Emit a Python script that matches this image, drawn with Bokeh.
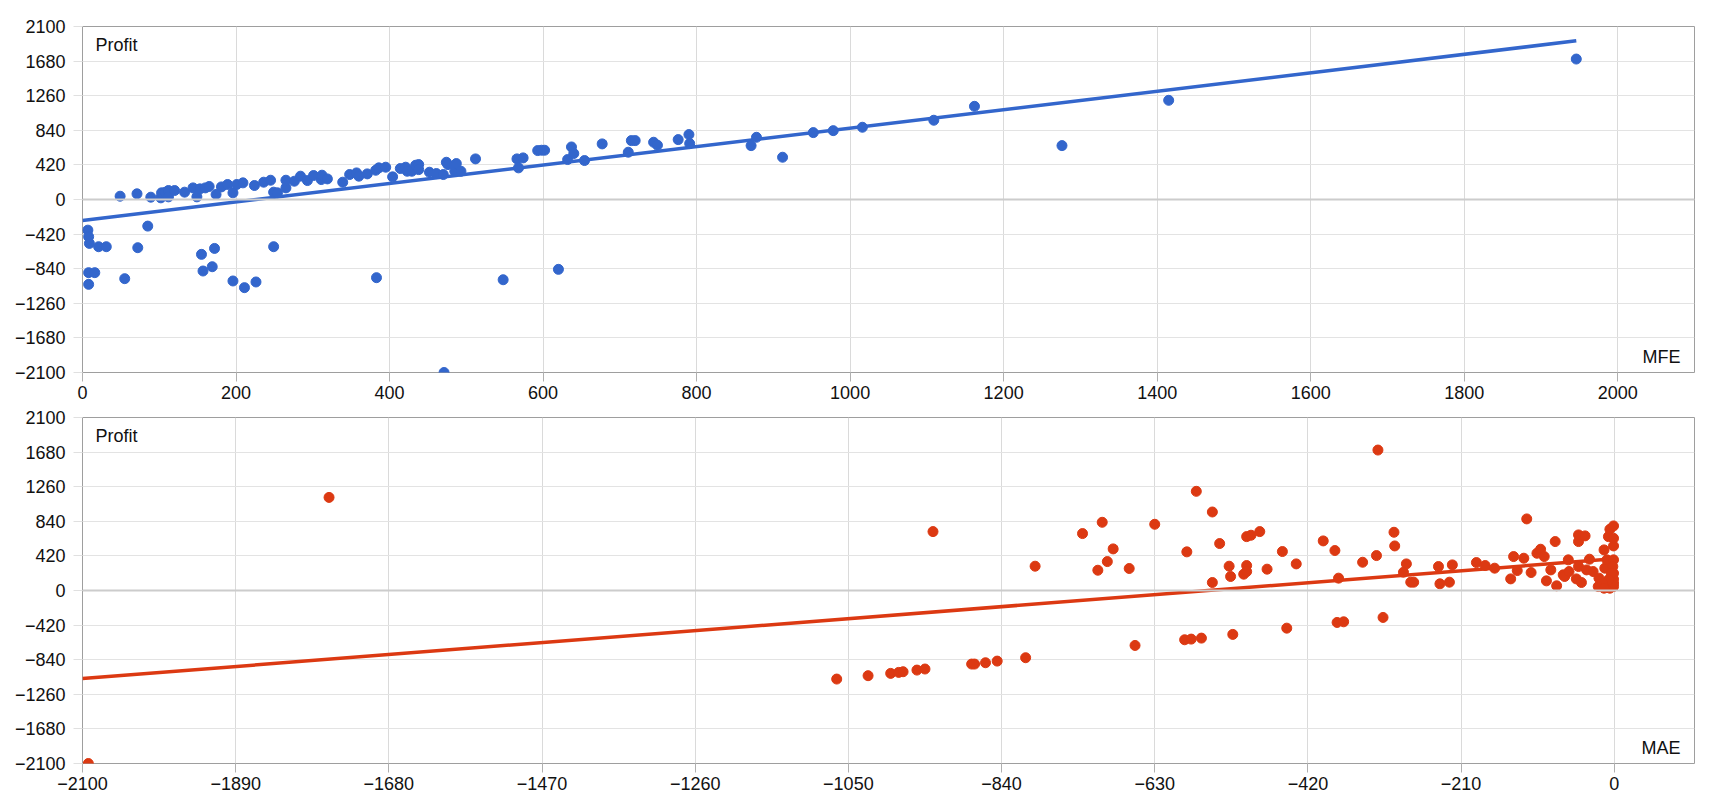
from bokeh.plotting import figure
from bokeh.models import FixedTicker, Range1d, Span, Label
from bokeh.layouts import column
from bokeh.embed import file_html
from bokeh.resources import INLINE

# ---------------- data ----------------
mfe = [49, 71, 89, 102, 103, 108, 112, 112, 120, 133, 144, 149, 153, 160, 165, 174, 181, 189,
       196, 201, 209, 224, 236, 245, 249, 254, 265, 265, 276, 284, 293, 301, 311, 312, 319, 339,
       348, 357, 360, 371, 382, 386, 395, 404, 414, 421, 423, 429, 434, 438, 438, 452, 461, 470,
       474, 476, 485, 487, 493, 512, 566, 568, 574, 593,
       7, 8, 9, 8, 16, 8, 21, 31, 55, 72, 85, 155, 157, 169, 172, 196, 211, 226, 249, 383, 471,
       548, 620,
       598, 602, 632, 637, 640, 654, 677, 711, 715, 720, 744, 749, 776, 790, 791, 871, 878, 912,
       952, 978, 1016, 1109, 1162, 1276, 1415, 1946]
mfe_profit = [40, 69, 28, 20, 81, 89, 109, 32, 109, 89, 141, 32, 129, 141, 158, 61, 153, 182,
              81, 182, 202, 170, 210, 234, 89, 81, 141, 234, 222, 283, 230, 291, 242, 295, 250, 210,
              303, 323, 283, 311, 355, 384, 392, 275, 376, 392, 343, 343, 416, 424, 363, 331, 315, 303,
              452, 424, 343, 436, 343, 493, 493, 384, 505, 594,
              -372, -452, -533, -888, -888, -1030, -573, -573, -961, -585, -323, -666, -868, -816,
              -594, -989, -1070, -1001, -573, -949, -2100, -974, -848,
              598, 598, 485, 638, 558, 473, 675, 574, 715, 715, 695, 659, 727, 788, 679, 654, 755, 513,
              812, 836, 877, 962, 1131, 654, 1204, 1705]

mae = [-2092, -1762, -1066, -1023, -992, -981, -975, -956, -945, -934, -881, -877, -862, -846,
       -807, -794, -729, -708, -702, -695, -687, -665, -657, -630, -589, -580, -566, -586, -573,
       -551, -551, -541, -528, -526, -523, -508, -504, -504, -504, -498, -486,
       -476, -455, -449, -436, -399, -383, -378, -380, -371, -345, -326, -324, -317, -302, -301,
       -285, -289, -279, -275, -241, -239, -226, -222, -189,
       -177, -164, -142, -138, -133, -124, -120, -114, -106, -101, -96, -93, -87, -81, -79, -70,
       -68, -63, -62, -52, -49, -49, -45, -40, -49, -38, -34, -29, -22, -21, -14, -13, -10, -8,
       -6, -6, -1, -1, -1, -1, -1, -1, -1, -1, -2, -4, -8, -16, -14]
mae_profit = [-2100, 1130, -1075, -1034, -1006, -994, -986, -966, -953, 715, -893, -893, -877, -857,
              -816, 295, 691, 246, 828, 351, 505, 267, -667, 804, -598, -590, -578, 469, 1204,
              953, 97, 570, 295, 170, -533, 198, 303, 230, 654, 671, 715,
              259, 473, -457, 323, 602, 485, 150, -388, -380, 343, 424, 1705, -327, 707, 541,
              323, 222, 101, 101, 291, 81, 101, 311, 339,
              303, 271, 141, 412, 242, 392, 869, 218, 452, 501, 412, 117, 250, 594, 57, 190,
              170, 372, 230, 141, 594, 675, 97, 663, 291, 250, 380, 230, 48, 150, 493, 271, 372, 654,
              743, 28, 48, 541, 634, 784, 372, 210, 137, 89, 291, 210, 129, 89, 28]

# linear trend lines as drawn in the picture (end points)
mfe_trend_x = [0, 1946]
mfe_trend_y = [-254, 1926]
mae_trend_x = [-2100, 0]
mae_trend_y = [-1068, 385]

profit_ticks = [-2100, -1680, -1260, -840, -420, 0, 420, 840, 1260, 1680, 2100]
mfe_ticks = [0, 200, 400, 600, 800, 1000, 1200, 1400, 1600, 1800, 2000]
mae_ticks = [-2100, -1890, -1680, -1470, -1260, -1050, -840, -630, -420, -210, 0]

BLUE = "#3366cc"
RED = "#dc3912"
FONT = "Liberation Sans"
FS = "18px"


def make_fig(top, xr, xticks, x, y, tx, ty, color, xname):
    p = figure(frame_width=1612, frame_height=346, x_range=Range1d(*xr), y_range=Range1d(-2100, 2100),
               output_backend="svg", toolbar_location=None,
               min_border_left=82, min_border_right=18, min_border_top=top, min_border_bottom=35)
    p.background_fill_color = "white"
    p.border_fill_color = "white"
    p.outline_line_color = "#9e9e9e"
    p.outline_line_width = 1

    p.xaxis.ticker = FixedTicker(ticks=xticks)
    p.yaxis.ticker = FixedTicker(ticks=profit_ticks)
    p.xgrid.ticker = FixedTicker(ticks=xticks)
    p.ygrid.ticker = FixedTicker(ticks=profit_ticks)
    p.xgrid.grid_line_color = "#dadada"
    p.ygrid.grid_line_color = "#e3e3e3"

    for ax in (p.xaxis, p.yaxis):
        ax.axis_line_color = None
        ax.minor_tick_line_color = None
        ax.major_tick_in = 0
        ax.major_tick_out = 9
        ax.major_label_text_font = FONT
        ax.major_label_text_font_size = FS
        ax.major_label_text_color = "#111111"
    p.xaxis.major_tick_line_color = "#b0b0b0"
    p.yaxis.major_tick_line_color = "#e0e0e0"
    p.xaxis.major_label_standoff = 4
    p.yaxis.major_label_standoff = 8
    p.xaxis.major_label_text_align = "left"

    p.add_layout(Span(location=0, dimension="width", line_color="#cccccc", line_width=2))

    p.line(tx, ty, line_color=color, line_width=3.5)
    p.scatter(x, y, size=10, fill_color=color, line_color=color)

    p.add_layout(Label(x=xr[0], y=2100, x_offset=13, y_offset=-18, text="Profit",
                       text_font=FONT, text_font_size=FS, text_baseline="middle",
                       text_align="left", text_color="#111111"))
    p.add_layout(Label(x=xr[1], y=-2100, x_offset=-14, y_offset=16, text=xname,
                       text_font=FONT, text_font_size=FS, text_baseline="middle",
                       text_align="right", text_color="#111111"))
    return p


p1 = make_fig(26, (0, 2100), mfe_ticks, mfe, mfe_profit, mfe_trend_x, mfe_trend_y, BLUE, "MFE")
p2 = make_fig(10, (-2100, 110), mae_ticks, mae, mae_profit, mae_trend_x, mae_trend_y, RED, "MAE")

layout = column(p1, p2, spacing=0)
open("out.html", "w").write(file_html(layout, INLINE))
